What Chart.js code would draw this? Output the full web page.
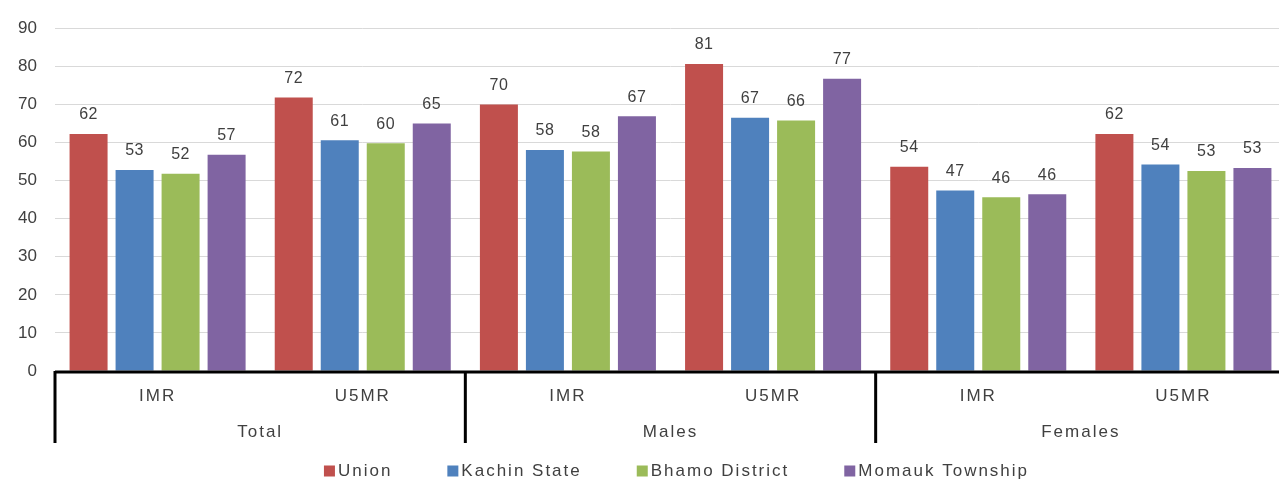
<!DOCTYPE html>
<html>
<head>
<meta charset="utf-8">
<script src="https://cdn.jsdelivr.net/npm/chart.js@4"></script>
<style>
  html, body { margin: 0; padding: 0; background: #fff; overflow: hidden; }
  #wrap { width: 1290px; height: 482px; position: relative; }
</style>
</head>
<body>
<div id="wrap"><canvas id="chart"></canvas></div>
<script>
// categories (lower level) and groups (upper level)
const categories = ['IMR', 'U5MR', 'IMR', 'U5MR', 'IMR', 'U5MR'];
const groups = ['Total', 'Males', 'Females'];

// series values
const union  = [62.2, 71.8, 70.0, 80.6, 53.6, 62.2];
const kachin = [52.8, 60.6, 58.0, 66.5, 47.4, 54.2];
const bhamo  = [51.8, 59.8, 57.6, 65.8, 45.6, 52.5];
const momauk = [56.8, 65.0, 66.9, 76.7, 46.4, 53.3];

const seriesNames = ['Union', 'Kachin State', 'Bhamo District', 'Momauk Township'];
const colors = ['#C0504D', '#4F81BD', '#9BBB59', '#8064A2'];

const yTicks = [0, 10, 20, 30, 40, 50, 60, 70, 80, 90];

const FONT = '"Liberation Sans", Arial, sans-serif';
const TEXT = '#404040';

// data labels, multi-level x axis, legend
const extras = {
  id: 'extras',
  afterDatasetsDraw(chart) {
    const ctx = chart.ctx;
    ctx.save();
    ctx.font = '16px ' + FONT;
    ctx.fillStyle = TEXT;
    ctx.textAlign = 'center';
    ctx.textBaseline = 'middle';
    ctx.letterSpacing = '0.5px';
    chart.data.datasets.forEach((ds, i) => {
      chart.getDatasetMeta(i).data.forEach((bar, j) => {
        ctx.fillText(String(Math.round(ds.data[j])), bar.x, bar.y - 19);
      });
    });
    ctx.restore();
  },
  afterDraw(chart) {
    const ctx = chart.ctx;
    const x = chart.scales.x;
    const area = chart.chartArea;
    const step = x.getPixelForValue(1) - x.getPixelForValue(0);
    const bottom = 443;

    ctx.save();
    // axis line + group dividers
    ctx.strokeStyle = '#000';
    ctx.lineWidth = 3;
    ctx.beginPath();
    ctx.moveTo(area.left, area.bottom + 1);
    ctx.lineTo(area.right + 5, area.bottom + 1);
    for (let g = 0; g <= groups.length; g++) {
      const px = x.getPixelForValue(g * 2) - step / 2;
      ctx.moveTo(px, area.bottom);
      ctx.lineTo(px, bottom);
    }
    ctx.stroke();

    // tick labels
    ctx.font = '17px ' + FONT;
    ctx.fillStyle = TEXT;
    ctx.textAlign = 'center';
    ctx.textBaseline = 'middle';
    ctx.letterSpacing = '2px';
    categories.forEach((c, i) => {
      ctx.fillText(c, x.getPixelForValue(i), 396);
    });
    groups.forEach((g, i) => {
      const px = (x.getPixelForValue(i * 2) + x.getPixelForValue(i * 2 + 1)) / 2;
      ctx.fillText(g, px, 432);
    });

    // legend
    const box = 11, boxGap = 3, itemGap = 55;
    ctx.textAlign = 'left';
    const widths = seriesNames.map(n => ctx.measureText(n).width);
    const total = widths.reduce((a, w) => a + box + boxGap + w, 0) + itemGap * (seriesNames.length - 1);
    let lx = (area.left + area.right) / 2 - total / 2 + 6;
    const ly = 471;
    seriesNames.forEach((n, i) => {
      ctx.fillStyle = colors[i];
      ctx.fillRect(lx, ly - box / 2, box, box);
      ctx.fillStyle = TEXT;
      ctx.fillText(n, lx + box + boxGap, ly);
      lx += box + boxGap + widths[i] + itemGap;
    });
    ctx.restore();
  }
};

const seriesData = [union, kachin, bhamo, momauk];

new Chart(document.getElementById('chart'), {
  type: 'bar',
  data: {
    labels: categories,
    datasets: seriesData.map((d, i) => ({
      label: seriesNames[i],
      data: d,
      backgroundColor: colors[i],
      categoryPercentage: 0.897,
      barPercentage: 0.826
    }))
  },
  options: {
    responsive: true,
    maintainAspectRatio: false,
    animation: false,
    devicePixelRatio: 1,
    layout: { padding: { top: 25, right: 4, left: 0, bottom: 0 } },
    plugins: {
      legend: { display: false },
      tooltip: { enabled: false }
    },
    scales: {
      x: {
        grid: { display: false },
        border: { display: false },
        ticks: { color: 'rgba(0,0,0,0)', autoSkip: false, maxRotation: 0 },
        afterFit(scale) { scale.height = 111; }
      },
      y: {
        min: 0,
        max: 90,
        afterBuildTicks(scale) { scale.ticks = yTicks.map(v => ({ value: v })); },
        afterFit(scale) { scale.width = 55; },
        grid: { color: '#d9d9d9', lineWidth: 1, drawTicks: false },
        border: { display: false },
        ticks: {
          color: TEXT,
          padding: 18,
          font: { family: FONT, size: 17 }
        }
      }
    }
  },
  plugins: [extras]
});
</script>
</body>
</html>
